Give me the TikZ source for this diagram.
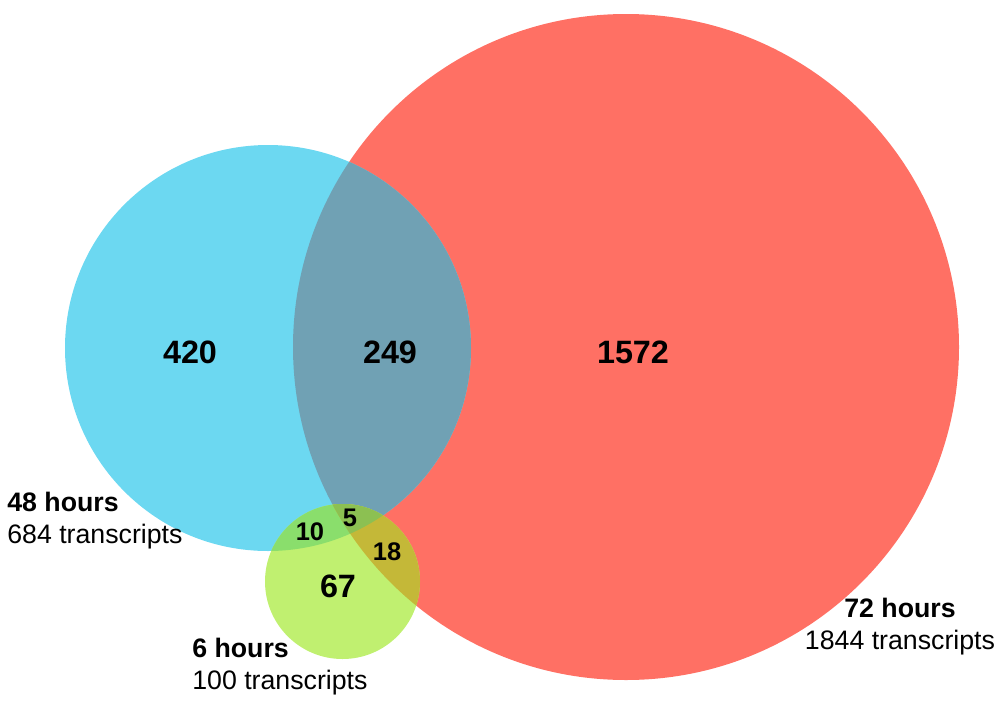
\documentclass[tikz,border=0pt]{standalone}
\usepackage{fontspec}
\setmainfont{Liberation Sans}
\definecolor{redset}{RGB}{255,112,100}
\definecolor{blueset}{RGB}{108,216,241}
\definecolor{bluered}{RGB}{112,161,180}
\definecolor{greenset}{RGB}{192,240,112}
\definecolor{greenblue}{RGB}{138,222,108}
\definecolor{greenred}{RGB}{196,184,56}
\definecolor{allsets}{RGB}{140,192,82}
\begin{document}
\begin{tikzpicture}[x=0.2mm, y=-0.2mm,
            big/.style={font=\fontsize{18.4}{18.4}\selectfont\bfseries, inner sep=0pt},
            small/.style={font=\fontsize{14.5}{14.5}\selectfont\bfseries, inner sep=0pt},
            lab/.style={font=\fontsize{15.2}{18.2}\selectfont, inner sep=0pt}]
            \useasboundingbox (0,0) rectangle (1000,705);

            \coordinate (c72) at (626,347);
            \coordinate (c48) at (268,348);
            \coordinate (c6) at (342.5,581.5);

            \fill[redset] (c72) circle (333);
            \fill[blueset] (c48) circle (203);
            \begin{scope}
                \clip (c72) circle (333);
                \fill[bluered] (c48) circle (203);
            \end{scope}

            \fill[greenset] (c6) circle (77.5);
            \begin{scope}
                \clip (c6) circle (77.5);
                \fill[greenblue] (c48) circle (203);
                \fill[greenred] (c72) circle (333);
                \clip (c48) circle (203);
                \fill[allsets] (c72) circle (333);
            \end{scope}

            \node[big] (n420) at (190,352) {420};
            \node[big] (n249) at (390,352) {249};
            \node[big] (n1572) at (633,352) {1572};
            \node[small] (n10) at (310,532) {10};
            \node[small] (n5) at (350,518) {5};
            \node[small] (n18) at (387,552) {18};
            \node[big] (n67) at (338,586) {67};

            \node[lab, anchor=west, align=left] (l48) at (7,521) {\textbf{48 hours}\\684 transcripts};
            \node[lab, anchor=west, align=left] (l6) at (192,667) {\textbf{6 hours}\\100 transcripts};
            \node[lab, align=center] (l72) at (900,627) {\textbf{72 hours}\\1844 transcripts};
        \end{tikzpicture}
\end{document}
